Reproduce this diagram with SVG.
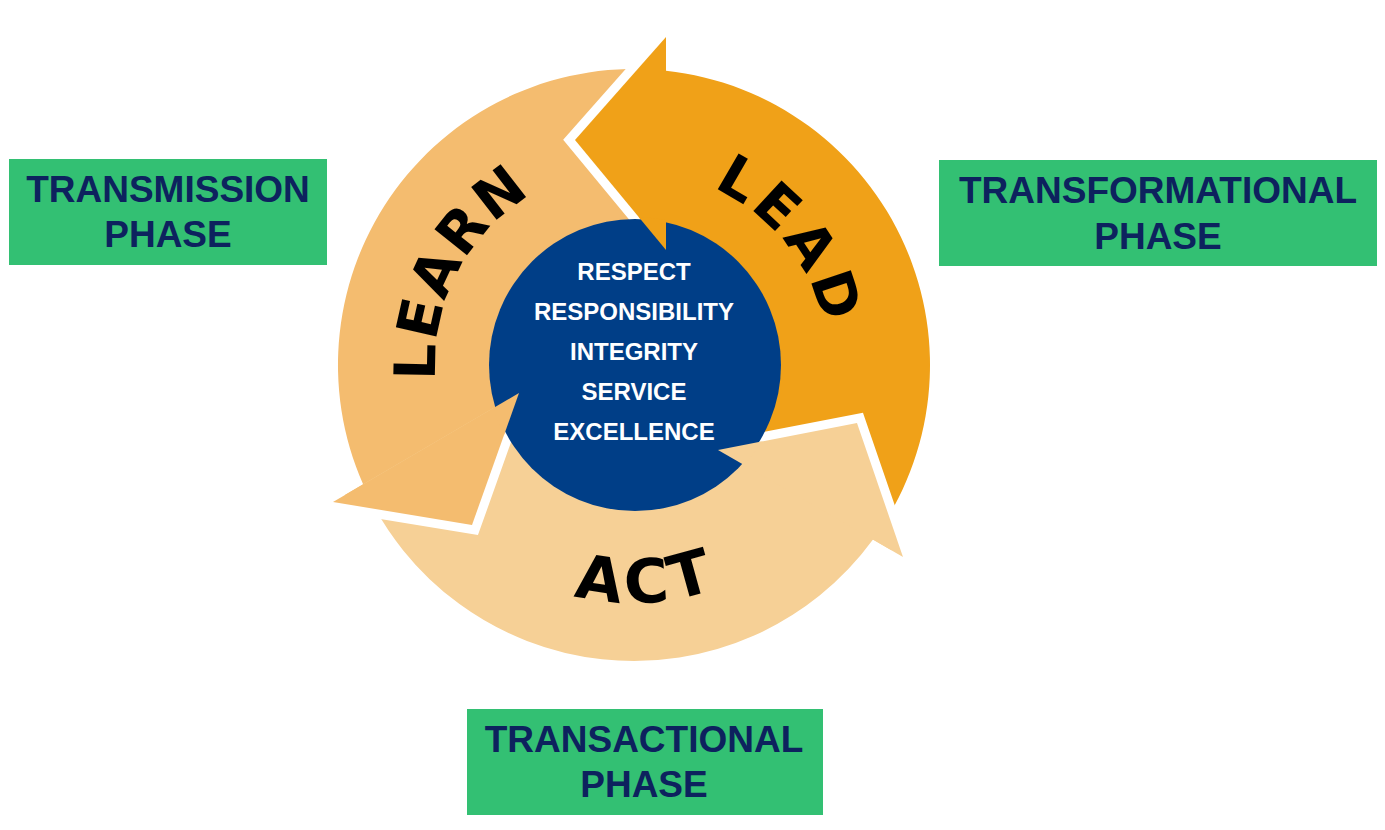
<svg xmlns="http://www.w3.org/2000/svg" width="1385" height="830" viewBox="0 0 1385 830">
<style>
  .learn{fill:#F4BC6F}
  .lead{fill:#F0A118}
  .act{fill:#F6D096}
  .gap{fill:none;stroke:#FFFFFF;stroke-width:18;stroke-linejoin:miter;stroke-miterlimit:10;stroke-linecap:butt}
  .arcText{font-family:"DejaVu Sans","Liberation Sans",Arial,sans-serif;font-weight:bold;fill:#000000}
  .core{font-family:"Liberation Sans",Arial,sans-serif;font-weight:bold;font-size:24px;fill:#FFFFFF;text-anchor:middle}
  .phaseBox{fill:#33C073}
  .phase{font-family:"Liberation Sans",Arial,sans-serif;font-weight:bold;font-size:37px;fill:#0D225E;text-anchor:middle}
</style>
<defs>
  <path id="learnArc" d="M 466.2,471.9 A 199 199 0 0 1 625.3,166.2"/>
  <path id="leadArc" d="M 605.7,173.1 A 194 194 0 0 1 814.4,436.4"/>
  <path id="actArc" d="M 434.8,495.3 A 238 238 0 0 0 846.4,472.3"/>
  <polygon id="learnHead" points="333,502 472,525 519,393"/>
  <polygon id="leadHead" points="666,37 575,140 666,250"/>
  <polygon id="actHead" points="718,450 857,423 903,557"/>
  <clipPath id="coreClip"><circle cx="635" cy="365" r="148"/></clipPath>
</defs>

<g id="learn-arrow">
  <path class="learn" d="M 363.1,484.3 A 296 296 0 0 1 666,70.7 L 666,244.2 A 125 125 0 0 0 513.0,396.5 L 519,393 L 472,525 L 333,502 Z"/>
</g>
<g id="lead-arrow">
  <path class="lead" d="M 666,70.7 A 296 296 0 0 1 873.0,539.6 L 722.9,452.8 A 125 125 0 0 0 666,244.2 L 666,250 L 575,140 L 666,37 Z"/>
</g>
<g id="act-arrow">
  <path class="act" d="M 873.0,539.6 A 296 296 0 0 1 363.1,484.3 L 513.0,396.5 A 125 125 0 0 0 722.9,452.8 L 718,450 L 857,423 L 903,557 Z"/>
</g>

<g id="arrowheads">
  <polyline class="gap" points="333,502 472,525 519,393"/>
  <polyline class="gap" points="666,37 575,140 666,250"/>
  <polyline class="gap" points="903,557 857,423 718,450"/>
  <use href="#learnHead" class="learn"/>
  <use href="#leadHead" class="lead"/>
  <use href="#actHead" class="act"/>
</g>

<g id="core-values">
  <circle cx="635" cy="365" r="146" fill="#003E87"/>
  <g clip-path="url(#coreClip)">
    <use href="#learnHead" class="learn"/>
    <use href="#leadHead" class="lead"/>
    <use href="#actHead" class="act"/>
  </g>
  <text class="core" x="634" y="280">RESPECT</text>
  <text class="core" x="634" y="320">RESPONSIBILITY</text>
  <text class="core" x="634" y="360">INTEGRITY</text>
  <text class="core" x="634" y="400">SERVICE</text>
  <text class="core" x="634" y="440">EXCELLENCE</text>
</g>

<g id="arrow-labels">
  <text class="arcText" font-size="57" letter-spacing="2"><textPath href="#learnArc" startOffset="50%" text-anchor="middle">LEARN</textPath></text>
  <text class="arcText" font-size="57" letter-spacing="5"><textPath href="#leadArc" startOffset="50%" text-anchor="middle">LEAD</textPath></text>
  <text class="arcText" font-size="61" letter-spacing="5"><textPath href="#actArc" startOffset="50%" text-anchor="middle">ACT</textPath></text>
</g>

<g id="transmission-phase">
  <rect class="phaseBox" x="9" y="159" width="318" height="106"/>
  <text class="phase" x="168" y="202">TRANSMISSION</text>
  <text class="phase" x="168" y="247">PHASE</text>
</g>
<g id="transformational-phase">
  <rect class="phaseBox" x="939" y="160" width="438" height="106"/>
  <text class="phase" x="1158" y="203">TRANSFORMATIONAL</text>
  <text class="phase" x="1158" y="249">PHASE</text>
</g>
<g id="transactional-phase">
  <rect class="phaseBox" x="467" y="709" width="356" height="106"/>
  <text class="phase" x="644" y="752">TRANSACTIONAL</text>
  <text class="phase" x="644" y="797">PHASE</text>
</g>
</svg>
